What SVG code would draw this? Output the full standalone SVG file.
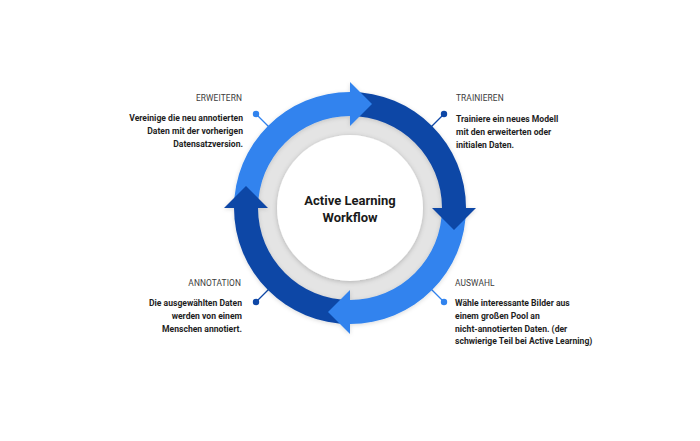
<svg xmlns="http://www.w3.org/2000/svg" width="700" height="441" viewBox="0 0 700 441">
  <defs>
    <filter id="innerShadow" x="-30%" y="-30%" width="160%" height="160%">
      <feDropShadow dx="0" dy="1" stdDeviation="2.5" flood-color="#000" flood-opacity="0.22"/>
    </filter>
    <filter id="ringShadow" x="-20%" y="-20%" width="140%" height="140%">
      <feDropShadow dx="0" dy="1" stdDeviation="2" flood-color="#000" flood-opacity="0.15"/>
    </filter>
  </defs>
  <style>
    .light { fill: #3183ee; }
    .dark { fill: #0e47a6; }
    .title { font-family: Roboto, "Liberation Sans", sans-serif; font-size: 8.4px; fill: #3c3c3c; letter-spacing: 0.1px; }
    .body { font-family: Roboto, "Liberation Sans", sans-serif; font-size: 8.6px; font-weight: bold; fill: #1e1e1e; }
    .center { font-family: Roboto, "Liberation Sans", sans-serif; font-size: 13px; font-weight: bold; fill: #1a1a1a; text-anchor: middle; }
    .lineL { stroke: #3183ee; stroke-width: 1.3; }
    .lineD { stroke: #0e47a6; stroke-width: 1.3; }
    .right { text-anchor: end; }
  </style>
  <rect width="700" height="441" fill="#ffffff"/>

  <g id="connectors">
    <line class="lineL" x1="256" y1="114" x2="272" y2="130"/>
    <circle class="light" cx="256" cy="114" r="3.2"/>
    <line class="lineD" x1="444" y1="114" x2="428" y2="130"/>
    <circle class="dark" cx="444" cy="114" r="3.2"/>
    <line class="lineL" x1="444" y1="302" x2="428" y2="286"/>
    <circle class="light" cx="444" cy="302" r="3.2"/>
    <line class="lineD" x1="256" y1="302" x2="272" y2="286"/>
    <circle class="dark" cx="256" cy="302" r="3.2"/>
  </g>

  <g id="cycle">
    <circle cx="350" cy="208" r="93" fill="#e4e4e4"/>
    <circle cx="350" cy="208" r="73" fill="#ffffff" filter="url(#innerShadow)"/>
    <g filter="url(#ringShadow)">
      <path class="light" d="M234 208 A116 116 0 0 1 350 92 L350 116 A92 92 0 0 0 258 208 Z"/>
      <path class="dark" d="M350 92 A116 116 0 0 1 466 208 L442 208 A92 92 0 0 0 350 116 Z"/>
      <path class="light" d="M466 208 A116 116 0 0 1 350 324 L350 300 A92 92 0 0 0 442 208 Z"/>
      <path class="dark" d="M350 324 A116 116 0 0 1 234 208 L258 208 A92 92 0 0 0 350 300 Z"/>
      <polygon class="light" points="350,82 350,126 372,104"/>
      <polygon class="dark" points="432,208 476,208 454,230"/>
      <polygon class="light" points="350,290 350,334 328,312"/>
      <polygon class="dark" points="224,208 268,208 246,186"/>
    </g>
    <text class="center" x="350" y="205">Active Learning</text>
    <text class="center" x="350" y="222">Workflow</text>
  </g>

  <g id="erweitern">
    <text class="title right" x="242" y="101">ERWEITERN</text>
    <text class="body right" x="243" y="121">Vereinige die neu annotierten</text>
    <text class="body right" x="243" y="134">Daten mit der vorherigen</text>
    <text class="body right" x="243" y="147">Datensatzversion.</text>
  </g>

  <g id="trainieren">
    <text class="title" x="456" y="101">TRAINIEREN</text>
    <text class="body" x="456" y="122">Trainiere ein neues Modell</text>
    <text class="body" x="456" y="135">mit den erweiterten oder</text>
    <text class="body" x="456" y="148">initialen Daten.</text>
  </g>

  <g id="annotation">
    <text class="title right" x="241" y="286">ANNOTATION</text>
    <text class="body right" x="242" y="306">Die ausgewählten Daten</text>
    <text class="body right" x="242" y="319">werden von einem</text>
    <text class="body right" x="242" y="332">Menschen annotiert.</text>
  </g>

  <g id="auswahl">
    <text class="title" x="455" y="286">AUSWAHL</text>
    <text class="body" x="455" y="306">Wähle interessante Bilder aus</text>
    <text class="body" x="455" y="319">einem großen Pool an</text>
    <text class="body" x="455" y="331.5">nicht-annotierten Daten. (der</text>
    <text class="body" x="455" y="344">schwierige Teil bei Active Learning)</text>
  </g>
</svg>
